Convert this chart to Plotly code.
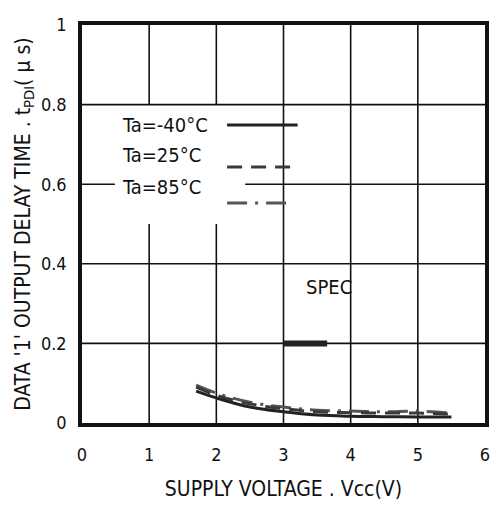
import plotly.graph_objects as go

# ---- data ----
vcc = [1.7, 2.0, 2.5, 3.0, 3.5, 4.0, 4.5, 5.0, 5.5]
t_m40 = [0.080, 0.063, 0.040, 0.028, 0.020, 0.017, 0.016, 0.015, 0.015]
t_25 = [0.090, 0.070, 0.048, 0.036, 0.028, 0.026, 0.025, 0.025, 0.022]
t_85 = [0.095, 0.075, 0.052, 0.040, 0.032, 0.030, 0.028, 0.030, 0.025]
spec_x = [3.0, 3.65]
spec_y = [0.2, 0.2]
legend_labels = ["Ta=-40\u00b0C", "Ta=25\u00b0C", "Ta=85\u00b0C"]
legend_sample_y = [0.749, 0.643, 0.553]
legend_text_y = [0.749, 0.673, 0.593]
legend_sample_x = [[2.16, 3.21], [2.16, 3.21], [2.16, 3.07]]
x_ticks = [0, 1, 2, 3, 4, 5, 6]
y_ticks = [0, 0.2, 0.4, 0.6, 0.8, 1]
y_ticklabels = ["0", "0.2", "0.4", "0.6", "0.8", "1"]

FONT = "DejaVu Sans Condensed, Liberation Sans Narrow, sans-serif"
styles = [
    dict(color="#222222", width=3, dash="solid"),
    dict(color="#3a3a3a", width=3, dash="15px,9px"),
    dict(color="#555555", width=3, dash="20px,8px,3px,8px"),
]

fig = go.Figure()
for ys, st in zip([t_85, t_25, t_m40], [styles[2], styles[1], styles[0]]):
    fig.add_trace(go.Scatter(x=vcc, y=ys, mode="lines", line=dict(shape="spline", **st),
                             showlegend=False, hoverinfo="skip"))
fig.add_trace(go.Scatter(x=spec_x, y=spec_y, mode="lines",
                         line=dict(color="#222222", width=6), showlegend=False))
for lx, ly, st in zip(legend_sample_x, legend_sample_y, styles):
    fig.add_trace(go.Scatter(x=lx, y=[ly, ly], mode="lines", line=st, showlegend=False))

# grid lines (with the gaps around the legend area)
grid = []
for xv in x_ticks[1:-1]:
    if xv in (1, 2):
        segs = [(0, 0.5), (0.8, 1)]
    else:
        segs = [(0, 1)]
    for a, b in segs:
        grid.append(dict(type="line", x0=xv, x1=xv, y0=a, y1=b))
for yv in y_ticks[1:-1]:
    if yv == 0.6:
        segs = [(0, 0.49), (2.43, 6)]
    else:
        segs = [(0, 6)]
    for a, b in segs:
        grid.append(dict(type="line", x0=a, x1=b, y0=yv, y1=yv))
shapes = [dict(g, xref="x", yref="y", layer="below", line=dict(color="#111111", width=1.6))
          for g in grid]

annotations = []
for lab, ty in zip(legend_labels, legend_text_y):
    annotations.append(dict(x=0.57, y=ty, xref="x", yref="y", text=lab, showarrow=False,
                            xanchor="left", yanchor="middle",
                            font=dict(family=FONT, size=20, color="#111111")))
annotations.append(dict(x=3.30, y=0.342, xref="x", yref="y", text="SPEC", showarrow=False,
                        xanchor="left", yanchor="middle",
                        font=dict(family=FONT, size=20, color="#111111")))

fig.update_layout(
    width=496, height=508,
    margin=dict(l=82, r=11, t=25, b=85),
    paper_bgcolor="white", plot_bgcolor="white",
    font=dict(family=FONT, size=18, color="#111111"),
    shapes=shapes, annotations=annotations,
    xaxis=dict(range=[0, 6], tickvals=x_ticks, ticktext=[str(v) for v in x_ticks],
               showgrid=False, zeroline=False, showline=True, mirror=True, automargin=False,
               linecolor="#111111", linewidth=3.5, ticks="", ticklabelstandoff=13,
               tickfont=dict(family=FONT, size=18),
               title=dict(text="SUPPLY VOLTAGE . Vcc(V)", standoff=18,
                          font=dict(family=FONT, size=21))),
    yaxis=dict(range=[0, 1], tickvals=y_ticks, ticktext=y_ticklabels,
               showgrid=False, zeroline=False, showline=True, mirror=True, automargin=False,
               linecolor="#111111", linewidth=3.5, ticks="", ticklabelstandoff=8,
               tickfont=dict(family=FONT, size=18),
               title=dict(text="DATA '1' OUTPUT DELAY TIME . t<sub>PDI</sub>( \u03bc s)",
                          standoff=6, font=dict(family=FONT, size=21))),
)

fig.write_html("out.html", config={"displayModeBar": False},
               post_script="document.body.style.margin='0';document.body.style.overflow='hidden';")
